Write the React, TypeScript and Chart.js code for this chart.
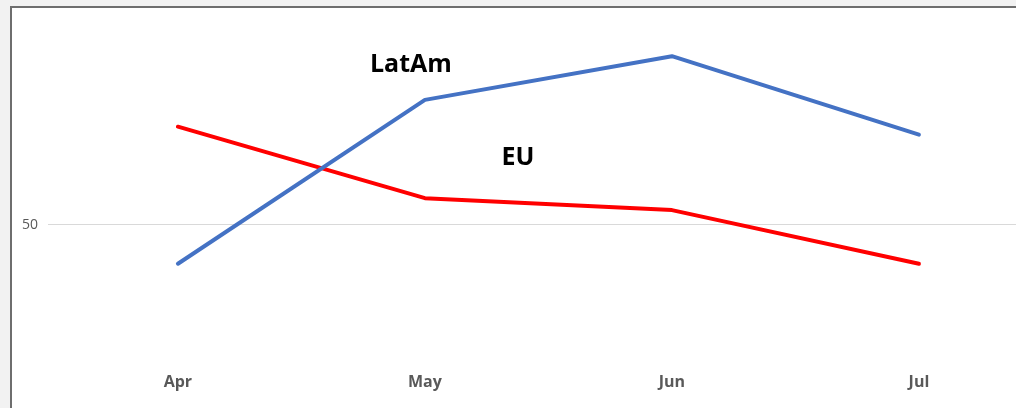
import React, { useEffect, useRef } from "react";
import { Chart, registerables } from "chart.js";

Chart.register(...registerables);

const categories = ["Apr", "May", "Jun", "Jul"];
const latAm = [40.25, 81.5, 92.5, 72.75];
const eu = [74.75, 56.75, 53.75, 40.25];
const yTicks = [50];
const seriesLabels = [
  { text: "LatAm", x: 0.943, y: 90.3 },
  { text: "EU", x: 1.377, y: 67 },
];

const FONT = "'Open Sans', Lato, sans-serif";

const textPlugin = {
  id: "seriesText",
  afterDatasetsDraw(chart: any) {
    const { ctx, scales } = chart;
    ctx.save();
    ctx.fillStyle = "#000000";
    ctx.font = "bold 25px " + FONT;
    ctx.textAlign = "center";
    ctx.textBaseline = "middle";
    seriesLabels.forEach((l) => {
      ctx.fillText(l.text, scales.x.getPixelForValue(l.x), scales.y.getPixelForValue(l.y));
    });
    ctx.restore();
  },
};

export default function App() {
  const ref = useRef<HTMLCanvasElement>(null);
  useEffect(() => {
    if (!ref.current) return;
    const chart = new Chart(ref.current, {
      type: "line",
      data: {
        datasets: [
          {
            label: "LatAm",
            data: latAm.map((v, i) => ({ x: i, y: v })),
            borderColor: "#4472C4",
            borderWidth: 4,
            borderCapStyle: "round",
            borderJoinStyle: "round",
            pointRadius: 0,
            tension: 0,
          },
          {
            label: "EU",
            data: eu.map((v, i) => ({ x: i, y: v })),
            borderColor: "#FF0000",
            borderWidth: 4,
            borderCapStyle: "round",
            borderJoinStyle: "round",
            pointRadius: 0,
            tension: 0,
          },
        ],
      },
      options: {
        animation: false,
        responsive: false,
        maintainAspectRatio: false,
        layout: { padding: { top: 16, left: 0, right: 0, bottom: 0 } },
        plugins: { legend: { display: false }, tooltip: { enabled: false } },
        scales: {
          x: {
            type: "linear",
            position: "bottom",
            min: -0.526,
            max: 3.393,
            afterBuildTicks: (s: any) => {
              s.ticks = categories.map((_, i) => ({ value: i }));
            },
            afterFit: (s: any) => {
              s.height = 44;
            },
            ticks: {
              autoSkip: false,
              maxRotation: 0,
              padding: 1,
              color: "#595959",
              font: { family: FONT, size: 16, weight: "bold" },
              callback: (v: any) => categories[Math.round(Number(v))] ?? "",
            },
            grid: { display: false },
            border: { display: false },
          },
          y: {
            type: "linear",
            min: 15,
            max: 100,
            afterBuildTicks: (s: any) => {
              s.ticks = yTicks.map((v) => ({ value: v }));
            },
            afterFit: (s: any) => {
              s.width = 36;
            },
            ticks: {
              padding: 10,
              color: "#595959",
              font: { family: FONT, size: 14 },
            },
            grid: { color: "#d9d9d9", lineWidth: 1, drawTicks: false },
            border: { display: false },
          },
        },
      },
      plugins: [textPlugin],
    } as any);
    return () => chart.destroy();
  }, []);

  return (
    <div
      style={{
        position: "fixed",
        left: 0,
        top: 0,
        width: 1016,
        height: 408,
        background: "#f2f2f2",
        overflow: "hidden",
      }}
    >
      <div
        style={{
          position: "absolute",
          left: 10,
          top: 6,
          width: 1006,
          height: 402,
          borderLeft: "2px solid #6e6e6e",
          borderTop: "2px solid #6e6e6e",
          background: "#ffffff",
        }}
      >
        <canvas ref={ref} width={1004} height={400} style={{ display: "block" }} />
      </div>
    </div>
  );
}
